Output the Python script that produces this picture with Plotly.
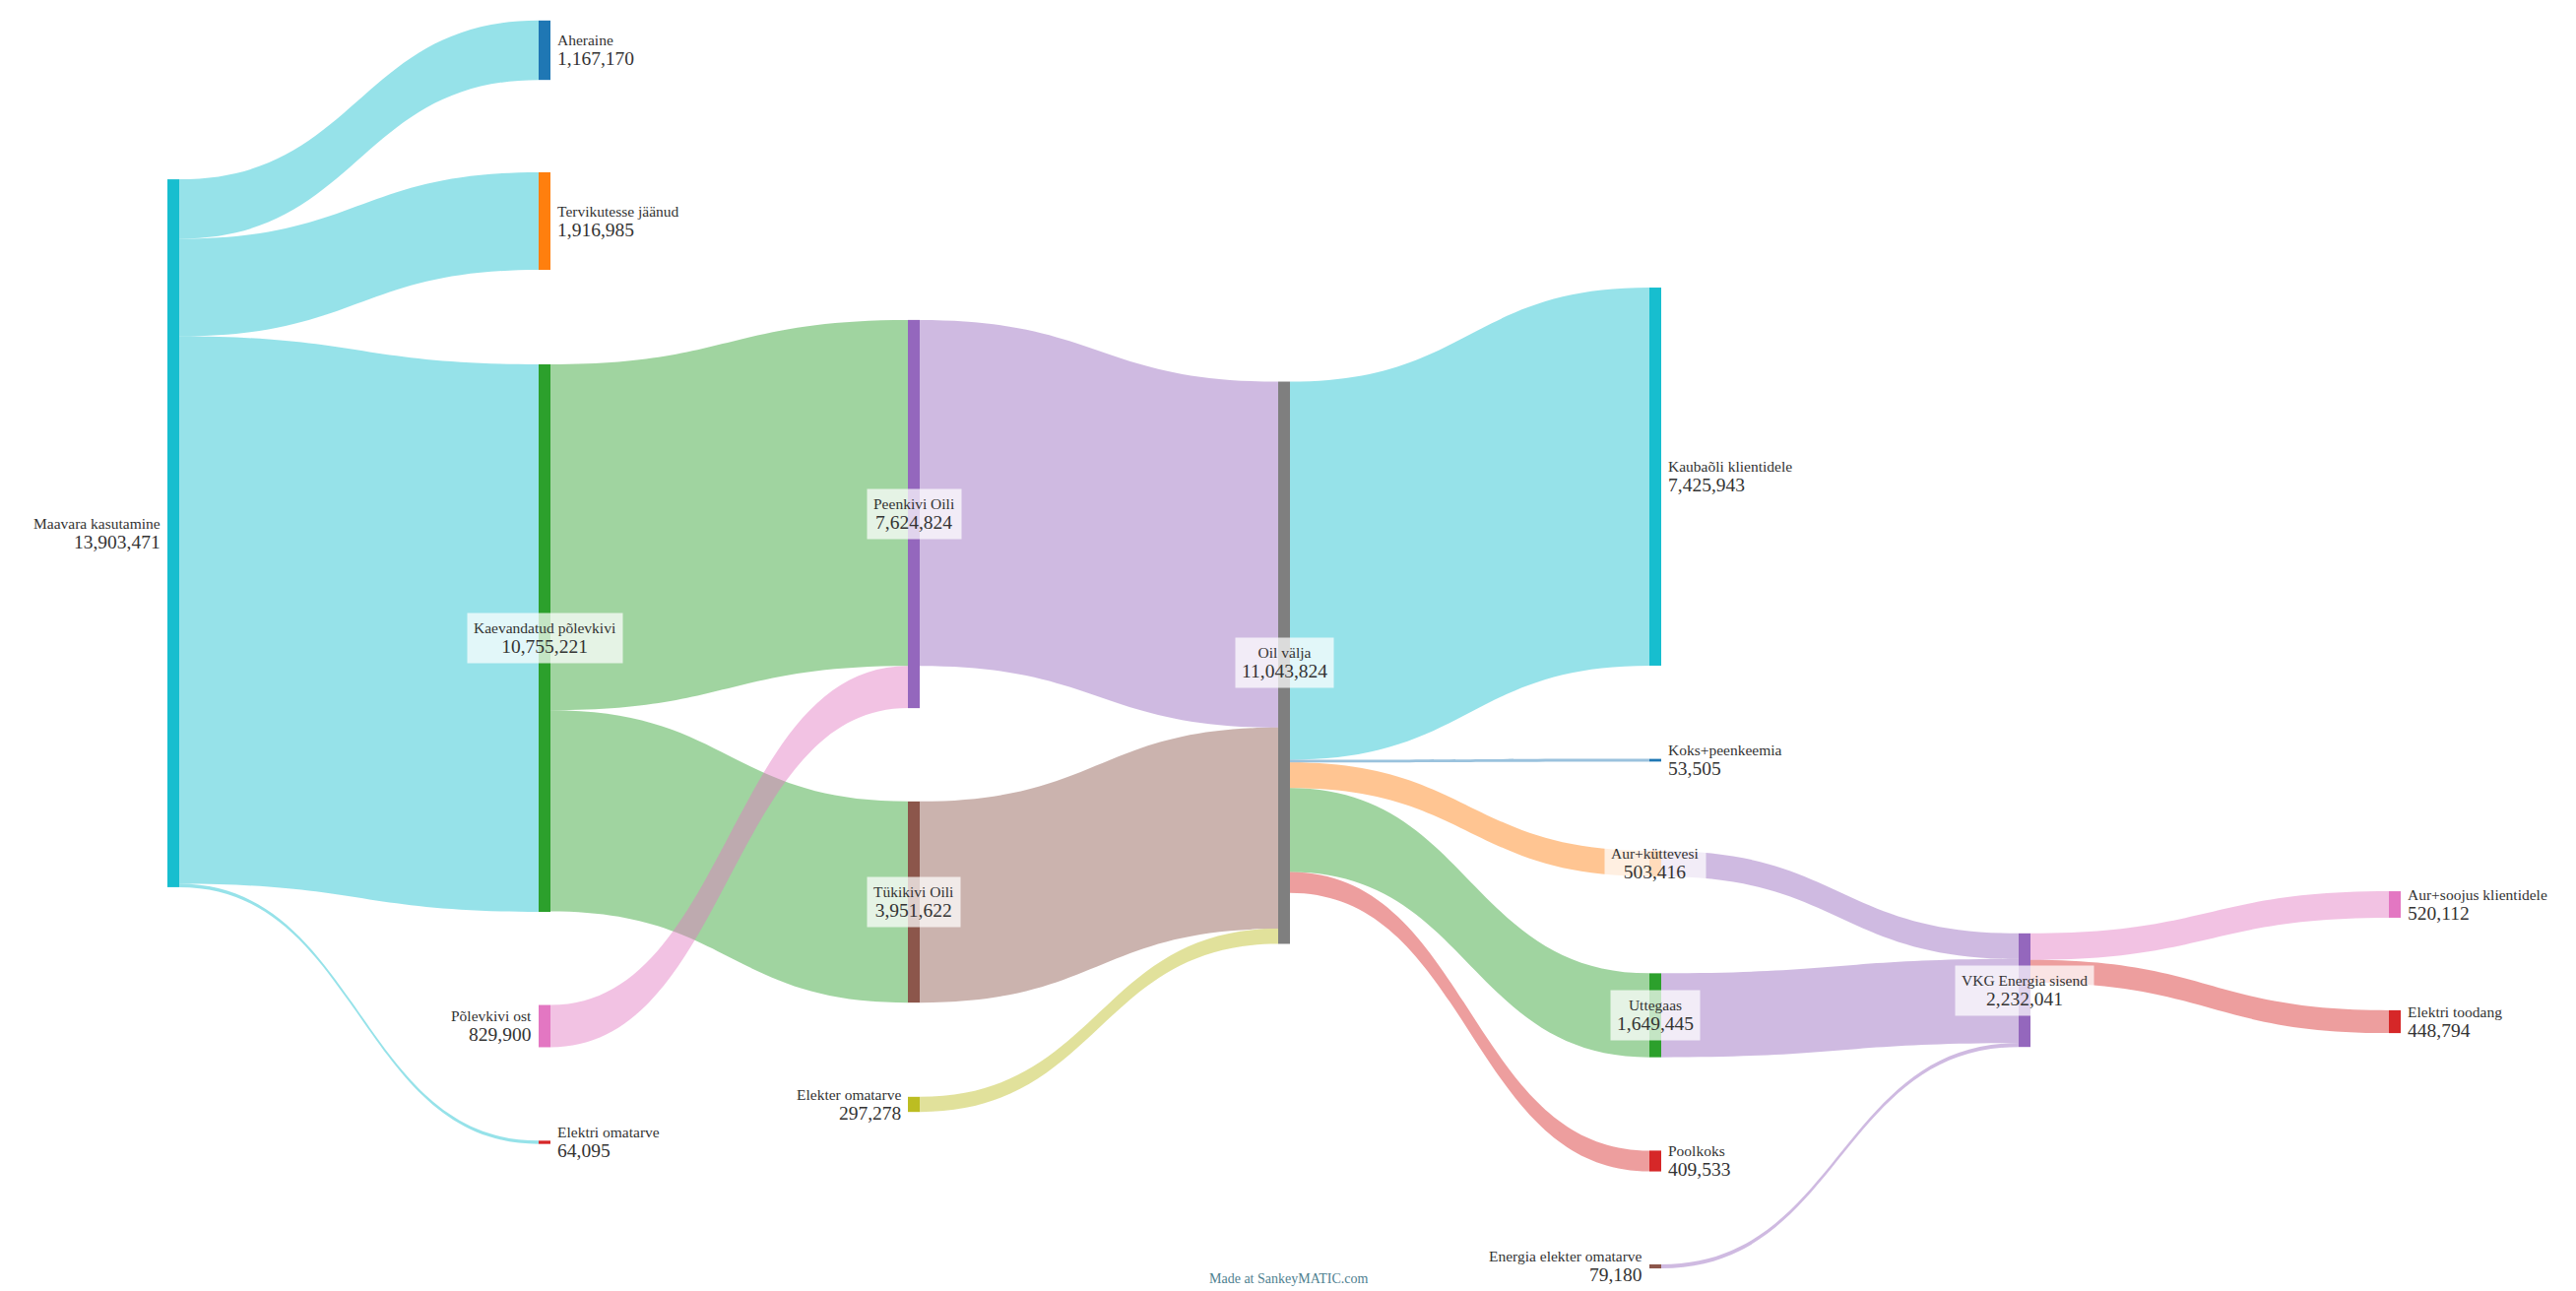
import plotly.graph_objects as go

# ---------------- data ----------------
node_names = [
    "Maavara kasutamine", "Aheraine", "Tervikutesse jäänud", "Kaevandatud põlevkivi",
    "Elektri omatarve", "Põlevkivi ost", "Peenkivi Oili", "Tükikivi Oili",
    "Elekter omatarve", "Oil välja", "Kaubaõli klientidele", "Koks+peenkeemia",
    "Aur+küttevesi", "Uttegaas", "Poolkoks", "Energia elekter omatarve",
    "VKG Energia sisend", "Aur+soojus klientidele", "Elektri toodang",
]

link_source = [
    "Maavara kasutamine", "Maavara kasutamine", "Maavara kasutamine", "Maavara kasutamine",
    "Kaevandatud põlevkivi", "Kaevandatud põlevkivi", "Põlevkivi ost",
    "Peenkivi Oili", "Tükikivi Oili", "Elekter omatarve",
    "Oil välja", "Oil välja", "Oil välja", "Oil välja", "Oil välja",
    "Aur+küttevesi", "Uttegaas", "Energia elekter omatarve",
    "VKG Energia sisend", "VKG Energia sisend",
]
link_target = [
    "Aheraine", "Tervikutesse jäänud", "Kaevandatud põlevkivi", "Elektri omatarve",
    "Peenkivi Oili", "Tükikivi Oili", "Peenkivi Oili",
    "Oil välja", "Oil välja", "Oil välja",
    "Kaubaõli klientidele", "Koks+peenkeemia", "Aur+küttevesi", "Uttegaas", "Poolkoks",
    "VKG Energia sisend", "VKG Energia sisend", "VKG Energia sisend",
    "Aur+soojus klientidele", "Elektri toodang",
]
link_value = [
    1167170, 1916985, 10755221, 64095,
    6794924, 3951622, 829900,
    6794924, 3951622, 297278,
    7425943, 53505, 503416, 1649445, 409533,
    503416, 1649445, 79180,
    520112, 448794,
]

# ---------------- styles / layout ----------------
W, H = 2616, 1311
KY = 51.7e-6  # px per unit in the reference

node_color = {
    "Maavara kasutamine": "#17becf", "Aheraine": "#1f77b4", "Tervikutesse jäänud": "#ff7f0e",
    "Kaevandatud põlevkivi": "#2ca02c", "Elektri omatarve": "#d62728", "Põlevkivi ost": "#e377c2",
    "Peenkivi Oili": "#9467bd", "Tükikivi Oili": "#8c564b", "Elekter omatarve": "#bcbd22",
    "Oil välja": "#7f7f7f", "Kaubaõli klientidele": "#17becf", "Koks+peenkeemia": "#1f77b4",
    "Aur+küttevesi": "#ff7f0e", "Uttegaas": "#2ca02c", "Poolkoks": "#d62728",
    "Energia elekter omatarve": "#8c564b", "VKG Energia sisend": "#9467bd",
    "Aur+soojus klientidele": "#e377c2", "Elektri toodang": "#d62728",
}
# node centre positions in pixels
node_px = {
    "Maavara kasutamine": (176, 541.5), "Aheraine": (553, 51), "Tervikutesse jäänud": (553, 224.5),
    "Kaevandatud põlevkivi": (553, 648), "Elektri omatarve": (553, 1160), "Põlevkivi ost": (553, 1042),
    "Peenkivi Oili": (928, 522), "Tükikivi Oili": (928, 916), "Elekter omatarve": (928, 1121.5),
    "Oil välja": (1304, 673), "Kaubaõli klientidele": (1681, 484), "Koks+peenkeemia": (1681, 772),
    "Aur+küttevesi": (1681, 877), "Uttegaas": (1681, 1031), "Poolkoks": (1681, 1179),
    "Energia elekter omatarve": (1681, 1286), "VKG Energia sisend": (2056, 1005.5),
    "Aur+soojus klientidele": (2432, 918.5), "Elektri toodang": (2432, 1037.5),
}
label_side = {
    "Maavara kasutamine": "left", "Aheraine": "right", "Tervikutesse jäänud": "right",
    "Kaevandatud põlevkivi": "center", "Elektri omatarve": "right", "Põlevkivi ost": "left",
    "Peenkivi Oili": "center", "Tükikivi Oili": "center", "Elekter omatarve": "left",
    "Oil välja": "center", "Kaubaõli klientidele": "right", "Koks+peenkeemia": "right",
    "Aur+küttevesi": "center", "Uttegaas": "center", "Poolkoks": "right",
    "Energia elekter omatarve": "left", "VKG Energia sisend": "center",
    "Aur+soojus klientidele": "right", "Elektri toodang": "right",
}
# outside-in colouring: flow takes colour of the node farther from the centre
outer_is_source = [True, True, True, True, True, True, True, True, True, True,
                   False, False, False, False, False, False, False, False, False, False]


def rgba(hex_color, a):
    h = hex_color.lstrip("#")
    r, g, b = int(h[0:2], 16), int(h[2:4], 16), int(h[4:6], 16)
    return f"rgba({r},{g},{b},{a})"


idx = {n: i for i, n in enumerate(node_names)}
src = [idx[s] for s in link_source]
tgt = [idx[t] for t in link_target]
link_colors = [rgba(node_color[s if o else t], 0.45)
               for s, t, o in zip(link_source, link_target, outer_is_source)]

# node totals = max(inflow, outflow)
inflow = {n: 0 for n in node_names}
outflow = {n: 0 for n in node_names}
for s, t, v in zip(link_source, link_target, link_value):
    outflow[s] += v
    inflow[t] += v
node_total = {n: max(inflow[n], outflow[n]) for n in node_names}

# padding chosen so that plotly's scale matches the reference
sink_sum = sum(node_total[n] for n in node_names if outflow[n] == 0)
n_sinks = sum(1 for n in node_names if outflow[n] == 0)
pad = (H - KY * sink_sum) / (n_sinks - 1)

fig = go.Figure(go.Sankey(
    arrangement="fixed",
    valueformat=",d",
    node=dict(
        label=["" for _ in node_names],
        customdata=node_names,
        hovertemplate="%{customdata}: %{value:,}<extra></extra>",
        color=[node_color[n] for n in node_names],
        x=[node_px[n][0] / W for n in node_names],
        y=[node_px[n][1] / H for n in node_names],
        thickness=12,
        pad=pad,
        line=dict(width=0),
    ),
    link=dict(source=src, target=tgt, value=link_value, color=link_colors),
))

annotations = []
for n in node_names:
    xp, yp = node_px[n]
    side = label_side[n]
    txt = f"{n}<br><span style='font-size:19.5px'>{node_total[n]:,}</span>"
    a = dict(
        x=xp / W, y=1 - yp / H, xref="paper", yref="paper", text=txt,
        showarrow=False, yanchor="middle",
        font=dict(family="Liberation Serif", size=15.5, color="#333333"),
    )
    if side == "right":
        a.update(xanchor="left", align="left", xshift=11)
    elif side == "left":
        a.update(xanchor="right", align="right", xshift=-11)
    else:
        a.update(xanchor="center", align="center", bgcolor="rgba(255,255,255,0.72)", borderpad=6)
    annotations.append(a)

annotations.append(dict(
    x=1308 / W, y=1 - 1298 / H, xref="paper", yref="paper", text="Made at SankeyMATIC.com",
    showarrow=False, xanchor="center", yanchor="middle",
    font=dict(family="Liberation Serif", size=14, color="#4f8190"),
))

fig.update_layout(
    width=W, height=H,
    margin=dict(l=0, r=0, t=0, b=0),
    paper_bgcolor="white", plot_bgcolor="white",
    font=dict(family="Liberation Serif"),
    annotations=annotations,
)

fig.write_html(
    "out.html",
    config={"displayModeBar": False},
    post_script="document.body.style.margin='0';document.body.style.overflow='hidden';",
)
